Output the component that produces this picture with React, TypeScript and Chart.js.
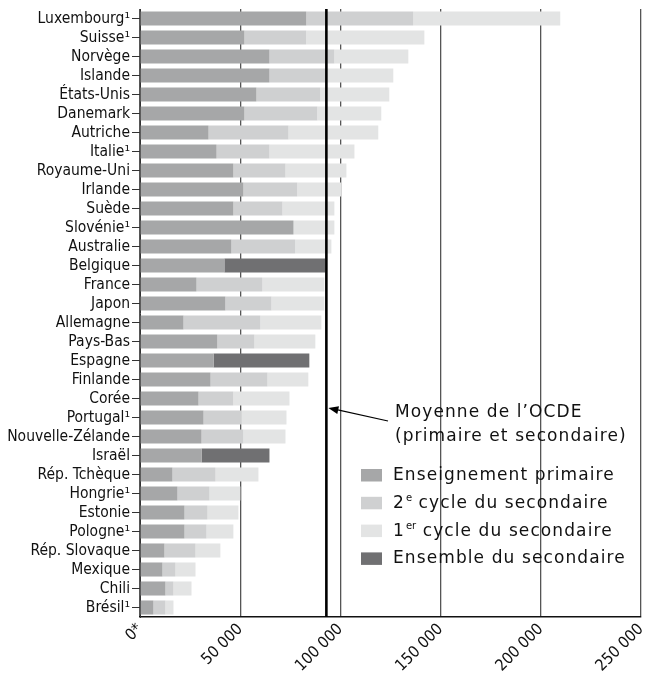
import React, { useEffect, useRef } from 'react';
import { Chart, registerables } from 'chart.js';

Chart.register(...registerables);

const COUNTRIES = [
  'Luxembourg¹', 'Suisse¹', 'Norvège', 'Islande', 'États-Unis', 'Danemark', 'Autriche', 'Italie¹',
  'Royaume-Uni', 'Irlande', 'Suède', 'Slovénie¹', 'Australie', 'Belgique', 'France', 'Japon',
  'Allemagne', 'Pays-Bas', 'Espagne', 'Finlande', 'Corée', 'Portugal¹', 'Nouvelle-Zélande', 'Israël',
  'Rép. Tchèque', 'Hongrie¹', 'Estonie', 'Pologne¹', 'Rép. Slovaque', 'Mexique', 'Chili', 'Brésil¹',
];

// Enseignement primaire
const PRIMARY = [
  83000, 52100, 64600, 64600, 58100, 52100, 34200, 38200,
  46600, 51600, 46600, 76600, 45600, 42100, 28200, 42600,
  21700, 38600, 36700, 35200, 29200, 31700, 30700, 30700,
  16200, 18700, 22200, 22200, 12200, 11200, 12700, 6700,
];

// 2e cycle du secondaire
const UPPER_SECONDARY = [
  53400, 30900, 32400, 28400, 31900, 36400, 39900, 26400,
  26000, 26900, 24500, 0, 31900, null, 32900, 23000,
  38400, 18500, null, 28400, 17400, 18900, 20900, null,
  21500, 16000, 11500, 11000, 15500, 6500, 4000, 6000,
];

// 1er cycle du secondaire
const LOWER_SECONDARY = [
  73300, 58900, 36900, 33400, 34400, 31900, 44800, 42400,
  30400, 22000, 25900, 20400, 18000, null, 30900, 26400,
  30400, 30400, null, 20400, 28000, 22500, 21000, null,
  21400, 15400, 15400, 13400, 12400, 10000, 9000, 4000,
];

// Ensemble du secondaire
const ALL_SECONDARY = [
  null, null, null, null, null, null, null, null,
  null, null, null, null, null, 50400, null, null,
  null, null, 47800, null, null, null, null, 33900,
  null, null, null, null, null, null, null, null,
];

const OECD_MEAN = 93000;

const X_TICK_VALUES = [0, 50000, 100000, 150000, 200000, 250000];
const X_TICK_LABELS = ['0*', '50 000', '100 000', '150 000', '200 000', '250 000'];

const SERIES_LABELS = [
  'Enseignement primaire',
  '2e cycle du secondaire',
  '1er cycle du secondaire',
  'Ensemble du secondaire',
];
// parts of legend labels: [base, superscript, rest]
const LEGEND_PARTS: [string, string, string][] = [
  ['Enseignement primaire', '', ''],
  ['2', 'e', ' cycle du secondaire'],
  ['1', 'er', ' cycle du secondaire'],
  ['Ensemble du secondaire', '', ''],
];
const MEAN_LABEL = ['Moyenne de l’OCDE', '(primaire et secondaire)'];

const COLORS = ['#a6a7a8', '#cfd0d1', '#e3e4e4', '#707072'];

const AXIS_FONT = "'DejaVu Sans Condensed', 'DejaVu Sans', sans-serif";
const NOTE_FONT = "'DejaVu Sans', sans-serif";

const overlayPlugin = {
  id: 'overlay',
  afterDatasetsDraw(chart: any) {
    const { ctx, chartArea, scales } = chart;
    const x = scales.x.getPixelForValue(OECD_MEAN);
    ctx.save();
    // mean line
    ctx.strokeStyle = '#000';
    ctx.lineWidth = 2.6;
    ctx.beginPath();
    ctx.moveTo(x, chartArea.top);
    ctx.lineTo(x, chartArea.bottom);
    ctx.stroke();

    // arrow
    const tipX = x + 2;
    const tipY = 408;
    const fromX = 388;
    const fromY = 421;
    ctx.lineWidth = 1.2;
    ctx.beginPath();
    ctx.moveTo(fromX, fromY);
    ctx.lineTo(tipX + 6, tipY + 1.2);
    ctx.stroke();
    const ang = Math.atan2(fromY - tipY, fromX - tipX);
    const len = 10;
    const hw = 4;
    ctx.fillStyle = '#000';
    ctx.beginPath();
    ctx.moveTo(tipX, tipY);
    ctx.lineTo(tipX + len * Math.cos(ang) - hw * Math.sin(ang), tipY + len * Math.sin(ang) + hw * Math.cos(ang));
    ctx.lineTo(tipX + len * Math.cos(ang) + hw * Math.sin(ang), tipY + len * Math.sin(ang) - hw * Math.cos(ang));
    ctx.closePath();
    ctx.fill();

    // annotation text
    ctx.font = `17px ${NOTE_FONT}`;
    (ctx as any).letterSpacing = '1.1px';
    ctx.textBaseline = 'middle';
    ctx.textAlign = 'left';
    ctx.fillStyle = '#111';
    ctx.fillText(MEAN_LABEL[0], 395, 413);
    ctx.fillText(MEAN_LABEL[1], 395, 437);

    // legend
    const datasets = chart.data.datasets;
    LEGEND_PARTS.forEach((parts, i) => {
      const cy = 475.5 + i * 27.8;
      ctx.fillStyle = datasets[i].backgroundColor;
      ctx.fillRect(361, cy - 6.5, 21, 12.5);
      ctx.fillStyle = '#111';
      let tx = 393;
      ctx.font = `17px ${NOTE_FONT}`;
      (ctx as any).letterSpacing = '1.1px';
      ctx.fillText(parts[0], tx, cy);
      tx += ctx.measureText(parts[0]).width;
      if (parts[1]) {
        ctx.font = `10px ${NOTE_FONT}`;
        (ctx as any).letterSpacing = '0px';
        ctx.fillText(parts[1], tx + 1, cy - 5);
        tx += ctx.measureText(parts[1]).width + 1;
        ctx.font = `17px ${NOTE_FONT}`;
        (ctx as any).letterSpacing = '1.1px';
        ctx.fillText(parts[2], tx, cy);
      }
    });
    ctx.restore();
  },
};

export default function App() {
  const ref = useRef<HTMLCanvasElement | null>(null);
  useEffect(() => {
    if (!ref.current) return;
    const chart = new Chart(ref.current, {
      type: 'bar',
      data: {
        labels: COUNTRIES,
        datasets: [
          { label: SERIES_LABELS[0], data: PRIMARY, backgroundColor: COLORS[0] },
          { label: SERIES_LABELS[1], data: UPPER_SECONDARY, backgroundColor: COLORS[1] },
          { label: SERIES_LABELS[2], data: LOWER_SECONDARY, backgroundColor: COLORS[2] },
          { label: SERIES_LABELS[3], data: ALL_SECONDARY, backgroundColor: COLORS[3] },
        ] as any,
      },
      options: {
        indexAxis: 'y',
        responsive: true,
        maintainAspectRatio: false,
        animation: false,
        layout: { padding: { top: 9, right: 5, left: 0, bottom: 0 } },
        datasets: { bar: { categoryPercentage: 0.74, barPercentage: 1 } } as any,
        plugins: { legend: { display: false }, tooltip: { enabled: false } },
        scales: {
          x: {
            stacked: true,
            min: 0,
            max: 250000,
            afterBuildTicks: (s: any) => {
              s.ticks = X_TICK_VALUES.map((v) => ({ value: v }));
            },
            afterFit: (s: any) => {
              s.height = 58;
              s.paddingRight = 0;
              s.paddingLeft = 0;
            },
            ticks: {
              autoSkip: false,
              minRotation: 45,
              maxRotation: 45,
              padding: 3,
              color: '#111',
              font: { family: AXIS_FONT, size: 16 },
              callback: (_v: any, i: number) => X_TICK_LABELS[i],
            },
            grid: { color: '#555', lineWidth: 1.3, drawTicks: false },
            border: { display: true, color: '#111', width: 1.5 },
          },
          y: {
            stacked: true,
            afterFit: (s: any) => {
              s.width = 140;
              s.paddingTop = 0;
              s.paddingBottom = 0;
            },
            ticks: {
              autoSkip: false,
              padding: 2,
              color: '#111',
              font: { family: AXIS_FONT, size: 15.5 },
            },
            grid: { offset: false, drawOnChartArea: false, drawTicks: true, tickLength: 8, color: '#333', lineWidth: 1 },
            border: { display: true, color: '#333', width: 1 },
          },
        } as any,
      },
      plugins: [overlayPlugin],
    });
    return () => chart.destroy();
  }, []);
  return (
    <div style={{ position: 'fixed', left: 0, top: 0, width: 646, height: 675 }}>
      <canvas ref={ref} />
    </div>
  );
}
